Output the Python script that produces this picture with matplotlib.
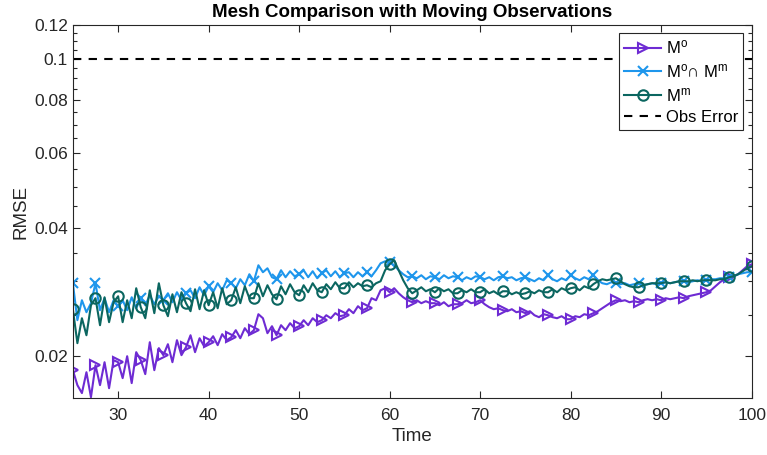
import numpy as np
import matplotlib
matplotlib.use("Agg")
import matplotlib.pyplot as plt
from matplotlib.ticker import FixedLocator, NullFormatter

plt.rcParams['font.family'] = ['Liberation Sans', 'DejaVu Sans']
plt.rcParams['mathtext.fontset'] = 'custom'
plt.rcParams['mathtext.rm'] = 'Liberation Sans'
plt.rcParams['mathtext.it'] = 'Liberation Sans:italic'

time = np.arange(25.0, 100.01, 0.5)

rmse_obs = [
    0.01854, 0.01710, 0.01638, 0.01834, 0.01602, 0.01905, 0.01710, 0.01936, 0.01682, 0.01957,
    0.01936, 0.01776, 0.02000, 0.01729, 0.02044, 0.01957, 0.01815, 0.02157, 0.01854, 0.02089,
    0.02011, 0.02134, 0.01936, 0.02181, 0.02011, 0.02100, 0.02240, 0.02044, 0.02204, 0.02111,
    0.02157, 0.02228, 0.02123, 0.02253, 0.02181, 0.02216, 0.02302, 0.02204, 0.02327, 0.02253,
    0.02302, 0.02510, 0.02456, 0.02265, 0.02352, 0.02240, 0.02365, 0.02302, 0.02391, 0.02327,
    0.02352, 0.02430, 0.02365, 0.02456, 0.02404, 0.02430, 0.02496, 0.02456, 0.02524, 0.02483,
    0.02496, 0.02579, 0.02524, 0.02621, 0.02565, 0.02592, 0.02737, 0.02707, 0.02857, 0.02889,
    0.02827, 0.02889, 0.02811, 0.02751, 0.02707, 0.02678, 0.02707, 0.02664, 0.02693, 0.02664,
    0.02664, 0.02635, 0.02678, 0.02621, 0.02649, 0.02649, 0.02664, 0.02707, 0.02664, 0.02678,
    0.02707, 0.02649, 0.02607, 0.02579, 0.02592, 0.02565, 0.02551, 0.02579, 0.02537, 0.02551,
    0.02524, 0.02551, 0.02496, 0.02470, 0.02510, 0.02496, 0.02470, 0.02456, 0.02483, 0.02443,
    0.02443, 0.02483, 0.02470, 0.02510, 0.02496, 0.02524, 0.02551, 0.02592, 0.02635, 0.02678,
    0.02707, 0.02693, 0.02707, 0.02678, 0.02693, 0.02678, 0.02707, 0.02722, 0.02707, 0.02722,
    0.02707, 0.02737, 0.02722, 0.02737, 0.02751, 0.02737, 0.02766, 0.02781, 0.02796, 0.02811,
    0.02827, 0.02857, 0.02920, 0.02984, 0.03033, 0.03066, 0.03082, 0.03116, 0.03184, 0.03253,
    0.03288,
]

rmse_both = [
    0.02968, 0.02430, 0.02707, 0.02537, 0.02664, 0.02968, 0.02565, 0.02737, 0.02537, 0.02707,
    0.02621, 0.02707, 0.02565, 0.02751, 0.02592, 0.02737, 0.02635, 0.02781, 0.02649, 0.02766,
    0.02707, 0.02811, 0.02678, 0.02827, 0.02707, 0.02811, 0.02857, 0.02737, 0.02904, 0.02781,
    0.02920, 0.02827, 0.02968, 0.02857, 0.03016, 0.02968, 0.02889, 0.03033, 0.02936, 0.03116,
    0.03000, 0.03271, 0.03150, 0.03218, 0.03066, 0.03033, 0.03184, 0.03066, 0.03167, 0.03082,
    0.03116, 0.03184, 0.03066, 0.03167, 0.03049, 0.03133, 0.03184, 0.03082, 0.03167, 0.03066,
    0.03133, 0.03150, 0.03066, 0.03150, 0.03082, 0.03150, 0.03082, 0.03184, 0.03306, 0.03342,
    0.03324, 0.03271, 0.03184, 0.03116, 0.03066, 0.03082, 0.03049, 0.03099, 0.03033, 0.03082,
    0.03066, 0.03033, 0.03099, 0.03049, 0.03082, 0.03066, 0.03016, 0.03066, 0.03033, 0.03082,
    0.03066, 0.03033, 0.03066, 0.03016, 0.03066, 0.03082, 0.03049, 0.03066, 0.03016, 0.03049,
    0.03066, 0.03033, 0.03000, 0.03049, 0.03016, 0.03099, 0.03033, 0.03000, 0.03049, 0.03016,
    0.03099, 0.03049, 0.03016, 0.03066, 0.03033, 0.03099, 0.03016, 0.02968, 0.02952, 0.02984,
    0.02968, 0.02952, 0.02968, 0.02936, 0.02952, 0.02968, 0.02936, 0.02952, 0.02968, 0.02952,
    0.02968, 0.02984, 0.02968, 0.02984, 0.03000, 0.03000, 0.02984, 0.03000, 0.03016, 0.03000,
    0.03016, 0.03033, 0.03033, 0.03049, 0.03049, 0.03066, 0.03082, 0.03116, 0.03133, 0.03150,
    0.03150,
]

rmse_model = [
    0.02579, 0.02146, 0.02456, 0.02240, 0.02635, 0.02737, 0.02365, 0.02751, 0.02404, 0.02678,
    0.02766, 0.02404, 0.02707, 0.02456, 0.02889, 0.02607, 0.02456, 0.02857, 0.02524, 0.02968,
    0.02635, 0.02483, 0.02796, 0.02537, 0.02827, 0.02664, 0.02551, 0.02873, 0.02579, 0.02857,
    0.02635, 0.02827, 0.02592, 0.02889, 0.02649, 0.02707, 0.02904, 0.02664, 0.02920, 0.02737,
    0.02737, 0.02968, 0.02766, 0.02936, 0.02796, 0.02722, 0.02920, 0.02796, 0.02952, 0.02827,
    0.02781, 0.02936, 0.02827, 0.02968, 0.02857, 0.02827, 0.02952, 0.02873, 0.02984, 0.02889,
    0.02889, 0.02984, 0.02904, 0.02968, 0.02920, 0.02936, 0.02904, 0.02968, 0.03000, 0.03184,
    0.03288, 0.03360, 0.03184, 0.03016, 0.02889, 0.02811, 0.02857, 0.02904, 0.02842, 0.02873,
    0.02827, 0.02889, 0.02842, 0.02873, 0.02811, 0.02811, 0.02857, 0.02827, 0.02873, 0.02827,
    0.02827, 0.02873, 0.02811, 0.02842, 0.02796, 0.02842, 0.02842, 0.02796, 0.02827, 0.02796,
    0.02811, 0.02842, 0.02811, 0.02857, 0.02827, 0.02827, 0.02873, 0.02827, 0.02889, 0.02857,
    0.02889, 0.02904, 0.02857, 0.02920, 0.02889, 0.02952, 0.03000, 0.03033, 0.03016, 0.03033,
    0.03049, 0.03000, 0.02952, 0.02920, 0.02904, 0.02904, 0.02936, 0.02952, 0.02968, 0.02968,
    0.02968, 0.02984, 0.02968, 0.02984, 0.03000, 0.03000, 0.03000, 0.03016, 0.03000, 0.03016,
    0.03016, 0.03016, 0.03016, 0.03033, 0.03033, 0.03066, 0.03082, 0.03116, 0.03167, 0.03218,
    0.03253,
]

obs_error = 0.1

labels = [r'M$^{\mathrm{o}}$', r'M$^{\mathrm{o}}$$\cap$ M$^{\mathrm{m}}$', r'M$^{\mathrm{m}}$', 'Obs Error']
x_ticks = [30, 40, 50, 60, 70, 80, 90, 100]
y_ticks = [0.02, 0.04, 0.06, 0.08, 0.1, 0.12]
y_tick_labels = ['0.02', '0.04', '0.06', '0.08', '0.1', '0.12']
y_minor = [0.025, 0.03, 0.035, 0.045, 0.05, 0.055, 0.065, 0.07, 0.075,
           0.085, 0.09, 0.095, 0.105, 0.11, 0.115]

c_purple = '#6E2BD3'
c_blue = '#1E96EC'
c_green = '#0B6660'

fig = plt.figure(figsize=(7.67, 4.55), dpi=100)
ax = fig.add_axes([0.095, 0.125, 0.885, 0.820])

mark_every = 5
ax.plot(time, rmse_obs, color=c_purple, lw=1.5, marker='>', ms=7.5, mfc='none',
        mew=1.5, markevery=mark_every, label=labels[0])
ax.plot(time, rmse_both, color=c_blue, lw=1.5, marker='x', ms=7.5,
        mew=1.5, markevery=mark_every, label=labels[1])
ax.plot(time, rmse_model, color=c_green, lw=1.5, marker='o', ms=7.5, mfc='none',
        mew=1.5, markevery=mark_every, label=labels[2])
ax.plot([time[0], time[-1]], [obs_error, obs_error], color='black', lw=1.5,
        ls=(0, (4, 3.5)), label=labels[3])

ax.set_yscale('log')
ax.set_xlim(25, 100)
ax.set_ylim(0.01594, 0.12)
ax.set_xticks(x_ticks)
ax.set_yticks(y_ticks)
ax.set_yticklabels(y_tick_labels)
ax.yaxis.set_minor_locator(FixedLocator(y_minor))
ax.yaxis.set_minor_formatter(NullFormatter())
ax.tick_params(which='both', direction='in', top=True, right=True, colors='#262626',
               labelsize=12.5, labelcolor='#262626')
ax.tick_params(which='major', length=5, width=0.8)
ax.tick_params(axis='x', which='major', pad=7)
ax.tick_params(which='minor', length=3, width=0.8)
for s in ax.spines.values():
    s.set_linewidth(0.8)
    s.set_color('#262626')

ax.set_xlabel('Time', fontsize=13.5, color='#262626', labelpad=4)
ax.set_ylabel('RMSE', fontsize=13.5, color='#262626', labelpad=3)
ax.set_title('Mesh Comparison with Moving Observations', fontsize=13.5,
             fontweight='bold', pad=6)

leg = ax.legend(loc='upper right', fontsize=12, frameon=True, fancybox=False,
                framealpha=1, edgecolor='#262626', handlelength=2.2, borderpad=0.3,
                labelspacing=0.35, handletextpad=0.3, borderaxespad=0.5)
leg.get_frame().set_linewidth(0.8)

fig.savefig('out.png', dpi=100)
